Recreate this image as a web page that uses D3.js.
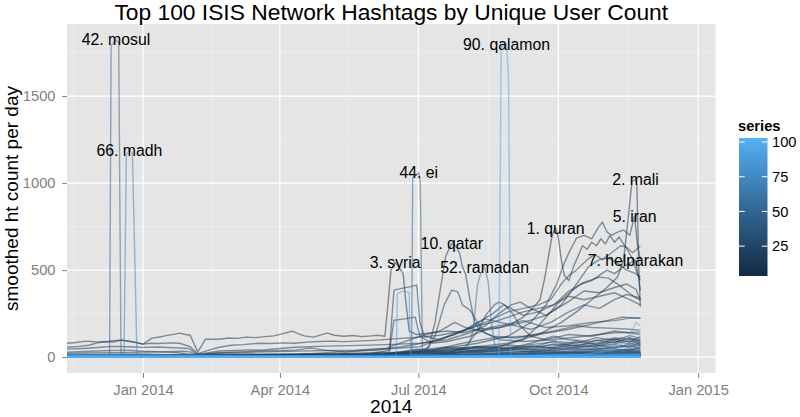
<!DOCTYPE html>
<html>
<head>
<meta charset="utf-8">
<script src="https://cdn.jsdelivr.net/npm/d3@7"></script>
<style>
body { margin: 0; background: #fff; }
text { font-family: "Liberation Sans", Arial, sans-serif; }
</style>
</head>
<body>
<svg id="chart" width="800" height="417"></svg>
<script>
// x values are days counted from 12 Nov 2013
var startDay = Date.UTC(2013, 10, 12);
var endDay = 426.4;

var xTickDates = ["2014-01-01", "2014-04-01", "2014-07-01", "2014-10-01", "2015-01-01"];
var xTickLabels = ["Jan 2014", "Apr 2014", "Jul 2014", "Oct 2014", "Jan 2015"];
var yTicks = [0, 500, 1000, 1500];
var legendTicks = [25, 50, 75, 100];

var labelRanks = [42, 66, 90, 44, 3, 10, 52, 1, 2, 5, 7];
var labelNames = ["mosul", "madh", "qalamon", "ei", "syria", "qatar", "ramadan", "quran", "mali", "iran", "helparakan"];

// series with their own points [day, value]
var quran = [[0,22],[30,26],[60,30],[76,34],[81,30],[86,10],[100,24],[130,30],[160,36],[190,40],[210,52],[232,120],[245,150],[255,200],[262,170],[272,150],[282,165],[292,190],[300,230],[306,280],[311,330],[314,450],[317,600],[319,700],[321.3,741],[323,690],[325,560],[327,470],[330,440],[333,520],[336,580],[339,640],[342,620],[345,660],[348,640],[351,680],[354,650],[357,700],[360,660],[363,690],[366,650],[369,610],[372,560],[375,480],[377,440]];
var mali = [[0,5],[100,8],[200,10],[240,30],[270,60],[290,80],[310,130],[325,200],[335,260],[345,330],[355,400],[362,460],[366,560],[369,800],[371.5,1010],[373.8,1023],[374.7,990],[376,500],[377,290]];
var syria = [[0,80],[6,84],[12,92],[18,88],[25,86],[30,94],[36,98],[41,90],[45,85],[50,75],[56,109],[61,116],[66,125],[70,131],[74,138],[78,130],[81,126],[86,29],[91,103],[100,103],[106,110],[112,108],[118,115],[124,112],[130,118],[136,122],[142,135],[148,149],[152,135],[156,122],[162,115],[167,128],[171,138],[176,126],[182,120],[188,124],[194,118],[200,122],[204,126],[209,120],[211,300],[213,500],[215.8,545],[218,520],[221,480],[223,300],[225,150],[230,130],[240,140],[250,150],[260,140],[270,160],[285,170],[300,200],[315,240],[330,320],[340,380],[350,370],[360,400],[368,420],[374,390],[377,330]];
var r4 = [[0,57],[8,62],[15,70],[20,82],[25,90],[30,86],[36,98],[41,92],[45,85],[50,75],[55,80],[60,78],[67,82],[74,80],[81,60],[86,20],[95,45],[100,57],[108,68],[116,72],[126,80],[134,78],[142,82],[150,80],[158,86],[166,90],[174,92],[182,89],[190,92],[198,95],[204,98],[215,105],[232,115],[245,126],[260,150],[270,180],[280,200],[290,230],[300,260],[310,280],[320,300],[330,380],[340,430],[350,460],[356,454],[362,420],[368,380],[374,340],[377,327]];
var iran = [[0,10],[100,15],[200,20],[240,40],[270,80],[290,120],[305,200],[315,300],[322,420],[326,520],[330,600],[335,684],[340,700],[345,680],[349,740],[352,776],[355,720],[358,700],[362,718],[366,730],[370,700],[373.2,810],[375,650],[377,560]];
var r6 = [[0,46],[10,50],[20,55],[30,62],[40,60],[50,56],[60,58],[70,54],[80,50],[86,15],[100,35],[110,38],[120,42],[127,40],[140,50],[150,57],[160,60],[170,63],[185,66],[200,69],[218,75],[232,80],[250,100],[265,140],[275,180],[284,250],[292,300],[298,316],[305,280],[315,240],[325,300],[335,420],[343,520],[350,560],[356,569],[362,540],[368,500],[374,480],[377,460]];
var helparakan = [[0,5],[200,8],[250,20],[280,50],[300,100],[310,180],[318,260],[325,330],[332,380],[338,420],[345,440],[350,470],[355,500],[360,480],[366,520],[370,540],[373.8,557],[376,450],[377,380]];
var r8 = [[0,12],[100,15],[200,20],[212,40],[215,385],[220,395],[226,405],[230,414],[232,200],[235,120],[245,100],[260,150],[270,200],[280,250],[287,300],[292,280],[300,240],[310,260],[320,300],[330,350],[340,330],[350,350],[360,370],[370,330],[377,300]];
var r9 = [[0,14],[50,18],[84,6],[120,14],[180,20],[212,30],[215,212],[222,220],[229,230],[232,120],[240,80],[250,90],[265,120],[278,170],[290,190],[300,210],[315,170],[330,180],[345,200],[360,210],[370,224],[377,224]];
var qatar = [[0,10],[100,10],[200,14],[232,30],[238,60],[242,200],[246,420],[249,580],[253,655],[256,635],[258,600],[260,520],[262,480],[265,330],[268,200],[272,150],[280,120],[295,110],[310,130],[330,160],[350,200],[365,230],[377,224]];
var r11 = [[0,8],[200,12],[235,20],[242,120],[248,300],[253,385],[257,375],[260,300],[265,270],[270,200],[275,138],[285,100],[300,90],[320,100],[340,120],[360,140],[377,144]];
var r12 = [[0,5],[200,10],[250,20],[262,60],[270,150],[276,250],[281,300],[284,316],[288,300],[293,250],[298,180],[305,120],[315,100],[330,130],[345,120],[360,150],[377,130]];
var r13 = [[0,29],[10,32],[20,35],[30,38],[40,40],[50,34],[60,30],[72,26],[84,12],[100,25],[113,30],[127,35],[138,38],[150,40],[160,52],[170,40],[183,29],[194,36],[204,40],[220,60],[240,90],[255,130],[265,170],[275,220],[285,200],[295,180],[305,160],[318,200],[330,260],[340,300],[350,280],[360,330],[368,360],[377,340]];
var r14 = [[0,10],[150,14],[232,60],[260,150],[275,200],[290,260],[300,280],[310,300],[318,330],[325,420],[330,470],[335,500],[342,560],[347,590],[352,560],[358,600],[364,640],[368,632],[372,600],[377,640]];
var r15 = [[0,8],[200,10],[240,40],[260,80],[280,110],[300,120],[320,150],[335,180],[345,170],[360,165],[370,160],[377,155]];
var r16 = [[0,4],[230,10],[250,30],[270,60],[290,50],[305,80],[320,120],[330,100],[345,90],[360,110],[377,100]];
var mosul = [[0,6],[20,8],[28,12],[29,1790],[32.2,1823],[34,1805],[35.5,10],[60,6],[150,5],[230,10],[300,14],[377,25]];
var ei = [[0,4],[100,6],[200,10],[225,15],[226.6,20],[227.3,1030],[229.5,1045],[231.3,1060],[232.3,1000],[233.7,20],[250,12],[300,15],[377,25]];
var ramadan = [[0,4],[100,5],[200,6],[240,10],[262,15],[267,150],[270,420],[272,480],[274.6,517],[277,430],[279,200],[282,30],[300,15],[330,20],[377,30]];
var madh = [[0,3],[37.5,5],[39,1160],[41,1190],[43,1170],[44.5,600],[46,5],[150,3],[250,6],[377,12]];
var r85 = [[0,2],[150,3],[210,6],[216.5,10],[217.2,365],[221,379],[225,372],[225.8,15],[250,8],[300,10],[377,18]];
var qalamon = [[0,2],[150,3],[284,4],[285.5,1780],[289,1799],[290.3,1600],[291.7,5],[330,6],[377,14]];
var r97 = [[0,2],[200,3],[300,8],[340,15],[360,40],[370,120],[374,200],[377,180]];

var namedRanks = [1, 2, 3, 4, 5, 6, 7, 8, 9, 10, 11, 12, 13, 14, 15, 16, 42, 44, 52, 66, 85, 90, 97];
var namedPoints = [quran, mali, syria, r4, iran, r6, helparakan, r8, r9, qatar, r11, r12, r13, r14, r15, r16, mosul, ei, ramadan, madh, r85, qalamon, r97];

// darker background series, one value per knot
var knotsFine = [0, 45, 90, 135, 180, 210, 230, 250, 270, 290, 305, 320, 335, 348, 360, 370, 377];
var fineRanks = [17, 18, 19, 20, 21, 22, 23, 24, 25, 26, 27, 28, 29, 30, 31, 32, 33, 34];
var fineValues = [
    [8,9,5,10,12,20,42,58,46,72,55,92,78,112,96,124,108],
    [5,6,3,7,9,16,36,30,56,42,66,52,86,72,104,88,118],
    [12,10,4,9,14,24,26,46,62,50,72,88,62,98,82,112,92],
    [4,5,3,6,8,14,31,52,36,56,46,76,66,82,102,86,96],
    [9,7,3,6,9,16,46,36,52,66,41,61,92,76,86,106,82],
    [4,4,2,5,6,12,21,41,31,46,62,51,71,61,92,76,86],
    [6,6,3,7,9,18,31,26,41,36,56,72,51,66,76,96,72],
    [3,4,2,4,5,11,26,21,36,52,31,46,62,56,72,61,82],
    [5,5,2,5,7,13,19,31,26,41,46,36,56,72,51,76,66],
    [2,3,1,4,5,9,16,23,31,26,36,52,41,46,62,56,72],
    [4,5,3,5,6,10,21,19,29,36,31,41,49,43,56,66,51],
    [3,2,2,4,5,8,13,21,17,26,33,29,39,51,46,41,62],
    [2,2,1,3,4,7,15,13,21,19,27,36,31,41,37,49,46],
    [3,4,2,4,4,7,12,16,14,23,21,29,26,35,43,39,52],
    [2,3,1,3,4,6,10,14,12,19,23,21,31,27,36,41,33],
    [1,2,1,3,3,5,13,11,17,15,21,27,23,31,29,37,41],
    [2,1,1,2,3,5,9,12,16,13,18,24,29,25,33,28,36],
    [1,2,1,2,3,5,8,10,9,15,13,19,17,24,21,30,26]
];

// low background series (the blue band)
var knotsCoarse = [0, 90, 180, 230, 270, 300, 330, 355, 377];
var coarseRanks = [35, 36, 37, 38, 39, 40, 41, 43, 45, 46, 47, 48, 49, 50, 51, 53, 54, 55, 56, 57, 58, 59, 60, 61, 62, 63, 64, 65,
    67, 68, 69, 70, 71, 72, 73, 74, 75, 76, 77, 78, 79, 80, 81, 82, 83, 84, 86, 87, 88, 89, 91, 92, 93, 94, 95, 96, 98, 99, 100];
var coarseValues = [
    [8,6,9,14,12,18,24,30,26],
    [6,5,8,11,16,14,20,27,32],
    [10,7,6,12,10,16,22,20,28],
    [5,4,7,10,14,12,18,24,22],
    [7,5,6,9,11,15,14,21,26],
    [4,6,5,11,9,13,17,16,23],
    [6,7,6,8,12,11,15,20,18],
    [4,5,6,9,8,12,14,18,21],
    [9,4,5,8,10,9,13,16,19],
    [3,5,4,7,9,11,12,15,17],
    [6,3,5,8,7,10,14,13,18],
    [5,4,4,6,8,9,11,14,16],
    [8,6,5,7,6,10,12,11,15],
    [3,2,4,6,7,8,10,13,14],
    [4,5,3,5,7,8,9,12,13],
    [7,5,4,6,5,8,10,11,14],
    [2,4,3,5,6,7,9,10,12],
    [6,3,4,5,6,7,8,11,13],
    [3,5,2,4,5,7,8,9,11],
    [12,9,6,5,5,6,8,10,12],
    [4,3,5,4,5,6,7,9,10],
    [9,7,3,5,4,6,7,8,11],
    [2,3,4,4,5,5,7,9,10],
    [5,2,3,4,4,6,6,8,9],
    [10,8,5,4,5,5,6,7,10],
    [3,4,2,3,4,5,6,8,8],
    [7,5,4,4,4,5,5,7,9],
    [14,11,7,3,4,4,6,6,8],
    [2,3,3,4,4,5,5,7,8],
    [6,4,2,3,4,4,5,6,7],
    [11,8,6,3,4,5,5,6,8],
    [4,2,3,3,3,4,5,5,7],
    [8,6,2,3,4,4,4,6,6],
    [3,5,4,3,3,4,5,5,6],
    [13,10,7,3,3,4,4,5,7],
    [5,3,2,3,3,3,4,5,6],
    [9,7,5,2,3,4,4,4,5],
    [2,4,3,3,3,3,4,5,6],
    [12,9,6,2,3,3,3,4,5],
    [4,3,2,3,2,3,3,4,5],
    [7,5,4,2,3,3,3,4,4],
    [1,2,2,2,3,3,3,3,5],
    [10,8,6,2,2,3,3,4,4],
    [3,2,1,2,2,2,3,3,4],
    [6,5,4,2,2,2,3,3,4],
    [2,1,2,2,2,2,2,3,3],
    [8,6,4,1,2,2,2,3,3],
    [1,2,1,1,2,2,2,2,3],
    [5,4,3,1,1,2,2,2,3],
    [2,1,1,1,1,1,2,2,2],
    [4,3,2,1,1,1,1,2,2],
    [1,1,1,1,1,1,1,1,2],
    [3,2,2,1,1,1,1,1,1],
    [1,0,1,0,1,1,1,1,1],
    [2,1,1,0,0,1,1,1,1],
    [0,0,0,0,0,0,1,1,1],
    [1,1,0,0,0,0,0,1,1],
    [0,0,0,0,0,0,0,0,1],
    [0,0,0,0,0,0,0,0,0]
];

function dayToDate(d) {
    return new Date(startDay + d * 864e5);
}

var series = [];
namedRanks.forEach(function (rank, i) {
    series.push({rank: rank, pts: namedPoints[i]});
});
fineRanks.forEach(function (rank, i) {
    series.push({rank: rank, pts: knotsFine.map(function (d, j) { return [d, fineValues[i][j]]; })});
});
coarseRanks.forEach(function (rank, i) {
    series.push({rank: rank, pts: knotsCoarse.map(function (d, j) { return [d, coarseValues[i][j]]; })});
});
series.sort(function (a, b) { return a.rank - b.rank; });

var panel = {left: 67, right: 715.5, top: 24, bottom: 373};
var svg = d3.select("#chart");

var x = d3.scaleUtc()
    .domain([dayToDate(0), dayToDate(endDay)])
    .range([panel.left, panel.right]);

var yMax = d3.max(series, function (s) { return d3.max(s.pts, function (p) { return p[1]; }); });
var pad = yMax * 0.05;
var y = d3.scaleLinear()
    .domain([-pad, yMax + pad])
    .range([panel.bottom, panel.top]);

var color = d3.scaleLinear()
    .domain([1, 100])
    .range(["#132B43", "#56B1F7"])
    .interpolate(d3.interpolateLab);

// panel background + grid
svg.append("rect")
    .attr("x", panel.left).attr("y", panel.top)
    .attr("width", panel.right - panel.left).attr("height", panel.bottom - panel.top)
    .attr("fill", "#E5E5E5");

var tickDates = xTickDates.map(function (s) { return new Date(s + "T00:00:00Z"); });
var allMajor = [new Date(Date.UTC(2013, 9, 1))].concat(tickDates, [new Date(Date.UTC(2015, 3, 1))]);
var xMinor = [];
for (var i = 0; i < allMajor.length - 1; i++) {
    var mid = new Date((allMajor[i].getTime() + allMajor[i + 1].getTime()) / 2);
    if (mid >= x.domain()[0] && mid <= x.domain()[1]) xMinor.push(mid);
}
var yMinor = yTicks.map(function (t) { return t + 250; }).filter(function (t) { return t <= y.domain()[1]; });

var grid = svg.append("g");
grid.selectAll(".ym").data(yMinor).enter().append("line")
    .attr("x1", panel.left).attr("x2", panel.right)
    .attr("y1", function (d) { return y(d); }).attr("y2", function (d) { return y(d); })
    .attr("stroke", "#F2F2F2").attr("stroke-width", 0.6);
grid.selectAll(".xm").data(xMinor).enter().append("line")
    .attr("y1", panel.top).attr("y2", panel.bottom)
    .attr("x1", function (d) { return x(d); }).attr("x2", function (d) { return x(d); })
    .attr("stroke", "#F2F2F2").attr("stroke-width", 0.6);
grid.selectAll(".yM").data(yTicks).enter().append("line")
    .attr("x1", panel.left).attr("x2", panel.right)
    .attr("y1", function (d) { return y(d); }).attr("y2", function (d) { return y(d); })
    .attr("stroke", "#FFFFFF").attr("stroke-width", 1.2);
grid.selectAll(".xM").data(tickDates).enter().append("line")
    .attr("y1", panel.top).attr("y2", panel.bottom)
    .attr("x1", function (d) { return x(d); }).attr("x2", function (d) { return x(d); })
    .attr("stroke", "#FFFFFF").attr("stroke-width", 1.2);

// lines
svg.append("clipPath").attr("id", "clip").append("rect")
    .attr("x", panel.left).attr("y", panel.top)
    .attr("width", panel.right - panel.left).attr("height", panel.bottom - panel.top);

var line = d3.line()
    .x(function (p) { return x(dayToDate(p[0])); })
    .y(function (p) { return y(p[1]); });

svg.append("g").attr("clip-path", "url(#clip)")
    .selectAll("path").data(series).enter().append("path")
    .attr("d", function (s) { return line(s.pts); })
    .attr("fill", "none")
    .attr("stroke", function (s) { return color(s.rank); })
    .attr("stroke-opacity", 0.5)
    .attr("stroke-width", 1.4)
    .attr("stroke-linejoin", "round");

// peak labels
labelRanks.forEach(function (rank, i) {
    var s = series.find(function (e) { return e.rank === rank; });
    var top = s.pts.reduce(function (a, b) { return b[1] > a[1] ? b : a; });
    svg.append("text")
        .attr("x", x(dayToDate(top[0])))
        .attr("y", y(top[1]))
        .attr("dy", "0.35em")
        .attr("text-anchor", "middle")
        .attr("font-size", 15.8)
        .attr("fill", "#000")
        .text(rank + ". " + labelNames[i]);
});

// axes
var xAxis = d3.axisBottom(x)
    .tickValues(tickDates)
    .tickFormat(function (d, i) { return xTickLabels[i]; })
    .tickSize(5).tickSizeOuter(0).tickPadding(7);
var gx = svg.append("g").attr("transform", "translate(0," + panel.bottom + ")").call(xAxis);

var yAxis = d3.axisLeft(y)
    .tickValues(yTicks)
    .tickFormat(d3.format("d"))
    .tickSize(5).tickSizeOuter(0).tickPadding(6.5);
var gy = svg.append("g").attr("transform", "translate(" + panel.left + ",0)").call(yAxis);

[gx, gy].forEach(function (g) {
    g.select(".domain").remove();
    g.selectAll(".tick line").attr("stroke", "#7F7F7F").attr("stroke-width", 1);
    g.selectAll(".tick text")
        .attr("fill", "#7F7F7F")
        .attr("font-size", 14.7)
        .attr("font-family", "Liberation Sans, Arial, sans-serif");
});

// titles
svg.append("text")
    .attr("x", (panel.left + panel.right) / 2).attr("y", 19.5)
    .attr("text-anchor", "middle").attr("font-size", 22.8).attr("fill", "#000")
    .text("Top 100 ISIS Network Hashtags by Unique User Count");

svg.append("text")
    .attr("x", (panel.left + panel.right) / 2).attr("y", 413)
    .attr("text-anchor", "middle").attr("font-size", 19).attr("fill", "#000")
    .text("2014");

svg.append("text")
    .attr("transform", "translate(17.5," + (panel.top + panel.bottom) / 2 + ") rotate(-90)")
    .attr("text-anchor", "middle").attr("font-size", 19).attr("fill", "#000")
    .text("smoothed ht count per day");

// legend
var bar = {x: 739, y: 138, w: 28.5, h: 138};
var grad = svg.append("defs").append("linearGradient")
    .attr("id", "grad").attr("x1", 0).attr("y1", 1).attr("x2", 0).attr("y2", 0);
d3.range(0, 11).forEach(function (k) {
    grad.append("stop")
        .attr("offset", k / 10)
        .attr("stop-color", color(1 + 99 * k / 10));
});
svg.append("rect")
    .attr("x", bar.x).attr("y", bar.y).attr("width", bar.w).attr("height", bar.h)
    .attr("fill", "url(#grad)");

var legendY = d3.scaleLinear().domain([1, 100]).range([279.5, 142]);

var lt = svg.append("g").selectAll("g").data(legendTicks).enter().append("g");
lt.append("line")
    .attr("x1", bar.x).attr("x2", bar.x + 5.7)
    .attr("y1", function (d) { return legendY(d); }).attr("y2", function (d) { return legendY(d); })
    .attr("stroke", "#fff").attr("stroke-width", 1);
lt.append("line")
    .attr("x1", bar.x + bar.w - 5.7).attr("x2", bar.x + bar.w)
    .attr("y1", function (d) { return legendY(d); }).attr("y2", function (d) { return legendY(d); })
    .attr("stroke", "#fff").attr("stroke-width", 1);
lt.append("text")
    .attr("x", 772).attr("y", function (d) { return legendY(d); })
    .attr("dy", "0.36em").attr("font-size", 14.7).attr("fill", "#000")
    .text(function (d) { return d; });

svg.append("text")
    .attr("x", 738).attr("y", 131)
    .attr("font-size", 14.7).attr("font-weight", "bold").attr("fill", "#000")
    .text("series");
</script>
</body>
</html>
